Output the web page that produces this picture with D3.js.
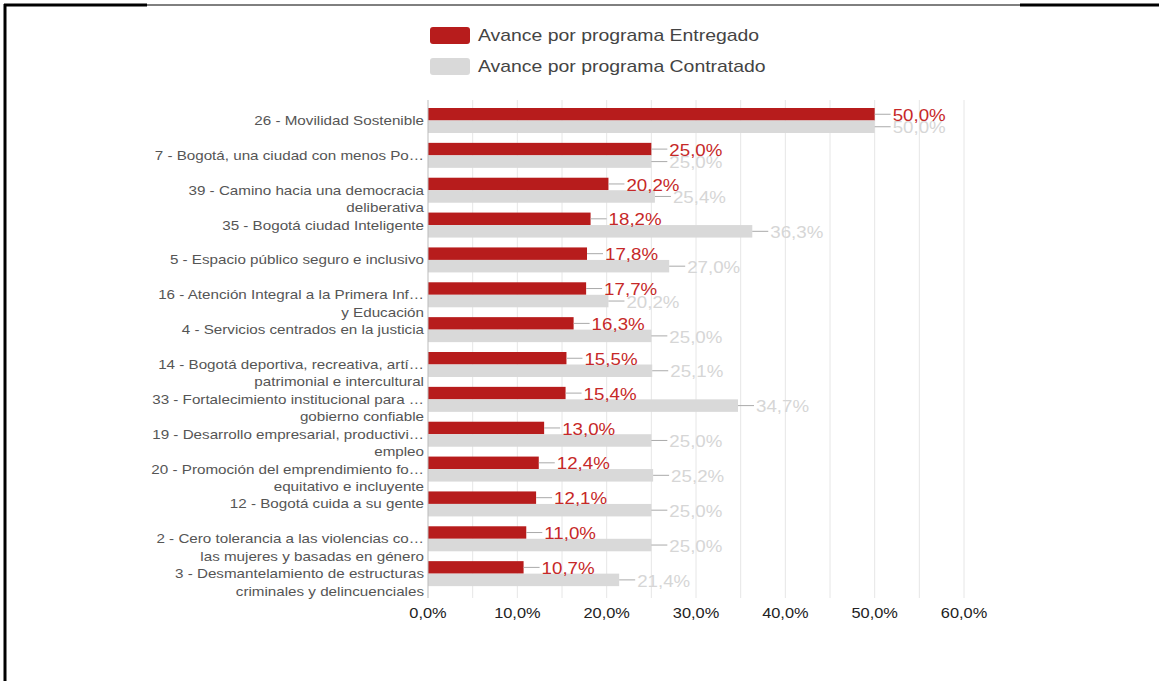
<!DOCTYPE html>
<html>
<head>
<meta charset="utf-8">
<script src="https://cdn.jsdelivr.net/npm/d3@7"></script>
<style>
  body { margin: 0; background: #fff; }
  svg { display: block; font-family: "Liberation Sans", Arial, sans-serif; }
</style>
</head>
<body>
<div id="root"></div>
<script>
// DIMENSIONS
let width = 1159,
  height = 681,
  sx = 1.17; // the texts in the picture are a bit wide

// DATA
const programas = [
  "26 - Movilidad Sostenible",
  "7 - Bogotá, una ciudad con menos Po…",
  "39 - Camino hacia una democracia\ndeliberativa",
  "35 - Bogotá ciudad Inteligente",
  "5 - Espacio público seguro e inclusivo",
  "16 - Atención Integral a la Primera Inf…\ny Educación",
  "4 - Servicios centrados en la justicia",
  "14 - Bogotá deportiva, recreativa, artí…\npatrimonial e intercultural",
  "33 - Fortalecimiento institucional para …\ngobierno confiable",
  "19 - Desarrollo empresarial, productivi…\nempleo",
  "20 - Promoción del emprendimiento fo…\nequitativo e incluyente",
  "12 - Bogotá cuida a su gente",
  "2 - Cero tolerancia a las violencias co…\nlas mujeres y basadas en género",
  "3 - Desmantelamiento de estructuras\ncriminales y delincuenciales"
];
const entregado = [50.0, 25.0, 20.2, 18.2, 17.8, 17.7, 16.3, 15.5, 15.4, 13.0, 12.4, 12.1, 11.0, 10.7];
const contratado = [50.0, 25.0, 25.4, 36.3, 27.0, 20.2, 25.0, 25.1, 34.7, 25.0, 25.2, 25.0, 25.0, 21.4];
const series = ["Avance por programa Entregado", "Avance por programa Contratado"];
const xTicks = [0, 10, 20, 30, 40, 50, 60];

const colors = ["#b71c1c", "#d9d9d9"];
const labelColors = ["#c62828", "#d6d6d6"];

const fmt = v => d3.format(".1f")(v).replace(".", ",") + "%";
const place = (px, py) => `translate(${px}, ${py}) scale(${sx}, 1)`;

let svg = d3.select('#root')
  .append('svg')
  .attr('width', width)
  .attr('height', height)
  .style('background-color', '#fff');

// frame lines
svg.append('line').attr('x1', 5).attr('x2', 5).attr('y1', 4).attr('y2', height)
  .attr('stroke', '#000').attr('stroke-width', 3);
svg.append('line').attr('x1', 4).attr('x2', 147).attr('y1', 5).attr('y2', 5)
  .attr('stroke', '#000').attr('stroke-width', 3);
svg.append('line').attr('x1', 147).attr('x2', 1020).attr('y1', 5).attr('y2', 5)
  .attr('stroke', '#000').attr('stroke-width', 1);
svg.append('line').attr('x1', 1020).attr('x2', width).attr('y1', 5).attr('y2', 5)
  .attr('stroke', '#000').attr('stroke-width', 3);

// scales
let x = d3.scaleLinear().domain([0, 60]).range([428, 964]);
let y = d3.scaleBand().domain(d3.range(programas.length)).range([103, 591]);
let ySub = d3.scaleBand().domain([0, 1]).range([5, 30]);

// gridlines every 5%
svg.append('g')
  .selectAll('line')
  .data(d3.range(5, 61, 5))
  .enter()
  .append('line')
  .attr('x1', d => x(d)).attr('x2', d => x(d))
  .attr('y1', 100).attr('y2', 598)
  .attr('stroke', '#e6e6e6')
  .attr('stroke-width', 1);

// bars
let groups = svg.append('g')
  .selectAll('g')
  .data(programas.map((p, i) => ({ i: i, vals: [entregado[i], contratado[i]] })))
  .enter()
  .append('g')
  .attr('transform', d => `translate(0, ${y(d.i)})`);

groups.selectAll('rect')
  .data(d => d.vals.map((v, s) => ({ v: v, s: s })))
  .enter()
  .append('rect')
  .attr('x', x(0))
  .attr('y', d => ySub(d.s))
  .attr('width', d => x(d.v) - x(0))
  .attr('height', ySub.bandwidth())
  .attr('fill', d => colors[d.s]);

// connector lines + value labels
groups.selectAll('.conn')
  .data(d => d.vals.map((v, s) => ({ v: v, s: s })))
  .enter()
  .append('line')
  .attr('class', 'conn')
  .attr('x1', d => x(d.v))
  .attr('x2', d => x(d.v) + 16)
  .attr('y1', d => ySub(d.s) + ySub.bandwidth() / 2)
  .attr('y2', d => ySub(d.s) + ySub.bandwidth() / 2)
  .attr('stroke', '#aaa')
  .attr('stroke-width', 1);

groups.selectAll('.val')
  .data(d => d.vals.map((v, s) => ({ v: v, s: s })))
  .enter()
  .append('text')
  .attr('class', 'val')
  .attr('transform', d => place(x(d.v) + 18, ySub(d.s) + ySub.bandwidth() / 2 + 1))
  .attr('dy', '0.35em')
  .style('font-size', '16px')
  .style('fill', d => labelColors[d.s])
  .text(d => fmt(d.v));

// baseline
svg.append('line')
  .attr('x1', x(0)).attr('x2', x(0))
  .attr('y1', 100).attr('y2', 598)
  .attr('stroke', '#bbb');

// category labels
let cat = svg.append('g')
  .selectAll('text')
  .data(programas)
  .enter()
  .append('text')
  .attr('transform', (d, i) => place(424, y(i) + y.bandwidth() / 2))
  .attr('text-anchor', 'end')
  .style('font-size', '13px')
  .style('fill', '#555');

cat.selectAll('tspan')
  .data(d => d.split('\n'))
  .enter()
  .append('tspan')
  .attr('x', 0)
  .attr('dy', (d, j) => j === 0 ? '0.35em' : '17.5px')
  .text(d => d);

// x axis labels
svg.append('g')
  .selectAll('text')
  .data(xTicks)
  .enter()
  .append('text')
  .attr('transform', d => place(x(d), 613))
  .attr('dy', '0.35em')
  .attr('text-anchor', 'middle')
  .style('font-size', '14px')
  .style('fill', '#222')
  .text(d => fmt(d));

// legend
let legend = svg.append('g')
  .selectAll('g')
  .data(series)
  .enter()
  .append('g')
  .attr('transform', (d, i) => `translate(430, ${27 + i * 31})`);

legend.append('rect')
  .attr('width', 40)
  .attr('height', 17)
  .attr('rx', 3)
  .attr('fill', (d, i) => colors[i]);

legend.append('text')
  .attr('transform', place(48, 8.5))
  .attr('dy', '0.35em')
  .style('font-size', '16.6px')
  .style('fill', '#444')
  .text(d => d);
</script>
</body>
</html>
